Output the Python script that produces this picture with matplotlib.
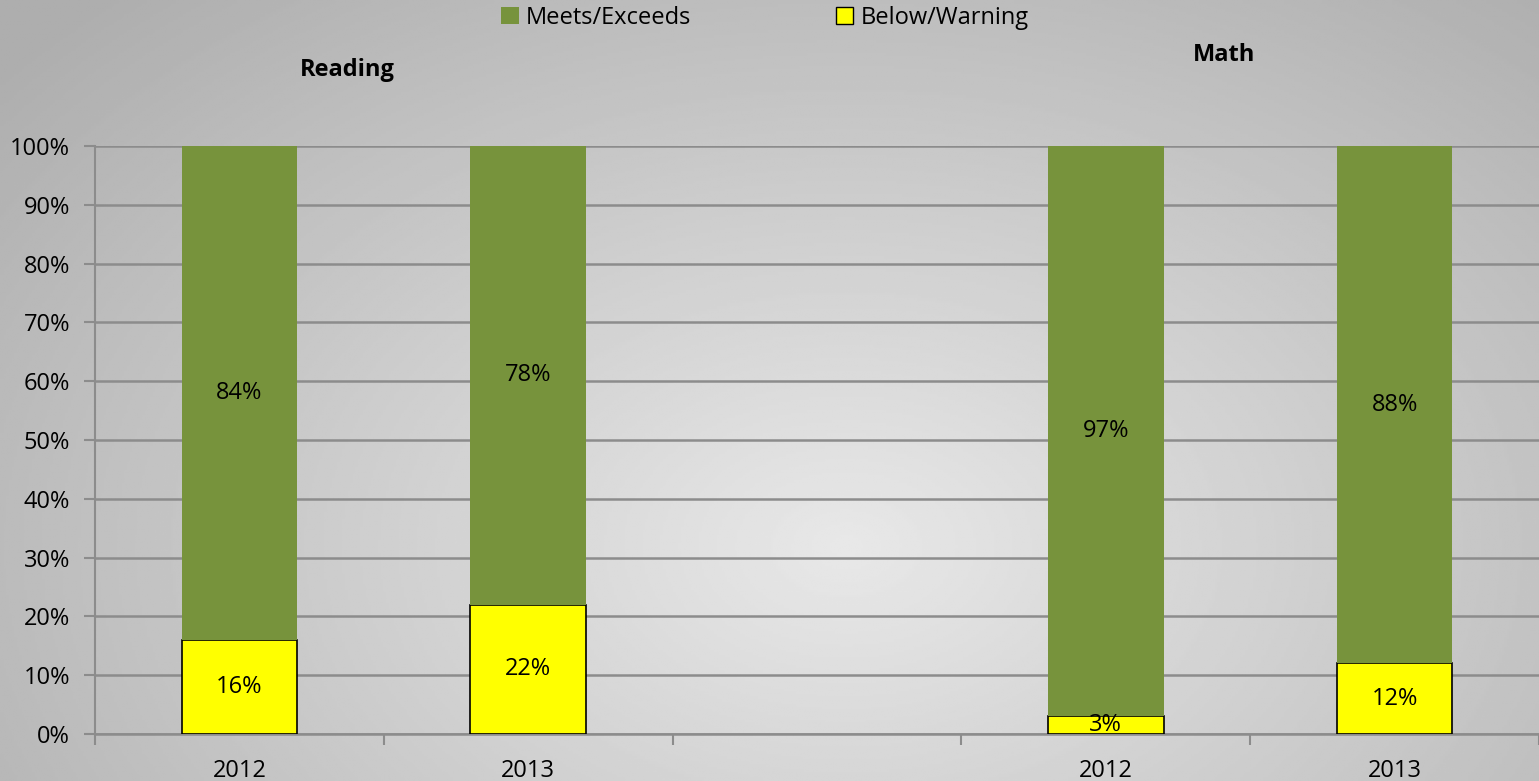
import numpy as np
import matplotlib
matplotlib.use("Agg")
from matplotlib import pyplot as plt
from matplotlib.patches import Patch

plt.rcParams['font.family'] = ['Open Sans', 'DejaVu Sans']

years = ["2012", "2013", "", "2012", "2013"]
meets = [84, 78, np.nan, 97, 88]
below = [16, 22, np.nan, 3, 12]
green = "#77933c"
yellow = "#ffff00"

fig = plt.figure(figsize=(15.39, 7.81), dpi=100)

# background: light centre (low, mid) fading to grey edges
bg = fig.add_axes([0, 0, 1, 1], zorder=-10)
yy, xx = np.mgrid[0:1:300j, 0:1:600j]
r = np.sqrt(((xx - 0.55) / 0.75)**2 + ((yy - 0.3) / 1.0)**2)
bg.imshow(np.clip(0.91 - 0.24 * r, 0.68, 0.92), cmap="gray", vmin=0, vmax=1,
          aspect="auto", extent=[0, 1, 0, 1], origin="lower")
bg.axis("off")

ax = fig.add_axes([95/1539, 47/781, 1444/1539, 588/781])
ax.patch.set_alpha(0)
x = np.arange(len(years))
w = 0.4
ax.bar(x, below, w, color=yellow, edgecolor="black", linewidth=1.2, zorder=3)
ax.bar(x, meets, w, bottom=below, color=green, zorder=3)

for i in range(len(years)):
    if np.isnan(meets[i]):
        continue
    ax.text(x[i], below[i] + meets[i] / 2, f"{meets[i]:.0f}%", ha="center",
            va="center", fontsize=17, zorder=4)
    ax.text(x[i], below[i] / 2, f"{below[i]:.0f}%", ha="center",
            va="center", fontsize=17, zorder=4)

ax.set_xlim(-0.5, 4.5)
ax.set_ylim(0, 100)
ax.set_yticks(np.arange(0, 101, 10))
ax.set_yticklabels([f"{v}%" for v in range(0, 101, 10)], fontsize=17)
ax.yaxis.grid(True, color="#8c8c8c", linewidth=1.8, zorder=0)
ax.set_axisbelow(True)
ax.set_xticks(x)
ax.set_xticklabels(years, fontsize=17)
ax.tick_params(axis="x", length=0, pad=18)
ax.set_xticks(np.arange(-0.5, 5, 1), minor=True)
ax.tick_params(axis="x", which="minor", length=8, color="#8c8c8c", width=1.5)
ax.tick_params(axis="y", length=8, color="#8c8c8c", width=1.5, pad=10)
for s in ["top", "right"]:
    ax.spines[s].set_visible(False)
ax.spines["left"].set_color("#8c8c8c")
ax.spines["left"].set_linewidth(1.5)
ax.spines["bottom"].set_color("#8c8c8c")
ax.spines["bottom"].set_linewidth(1.8)

fig.text(347/1539, 1 - 70/781, "Reading", ha="center", va="center",
         fontsize=17, fontweight="bold")
fig.text(1224/1539, 1 - 55/781, "Math", ha="center", va="center",
         fontsize=17, fontweight="bold")

handles = [Patch(facecolor=green, label="Meets/Exceeds"),
           Patch(facecolor=yellow, edgecolor="black", label="Below/Warning")]
fig.legend(handles=handles, loc="center", bbox_to_anchor=(765/1539, 1 - 18/781),
           ncol=2, frameon=False, fontsize=17, handlelength=0.75,
           handleheight=0.75, handletextpad=0.3, columnspacing=6.1)

fig.savefig("out.png", dpi=100)
